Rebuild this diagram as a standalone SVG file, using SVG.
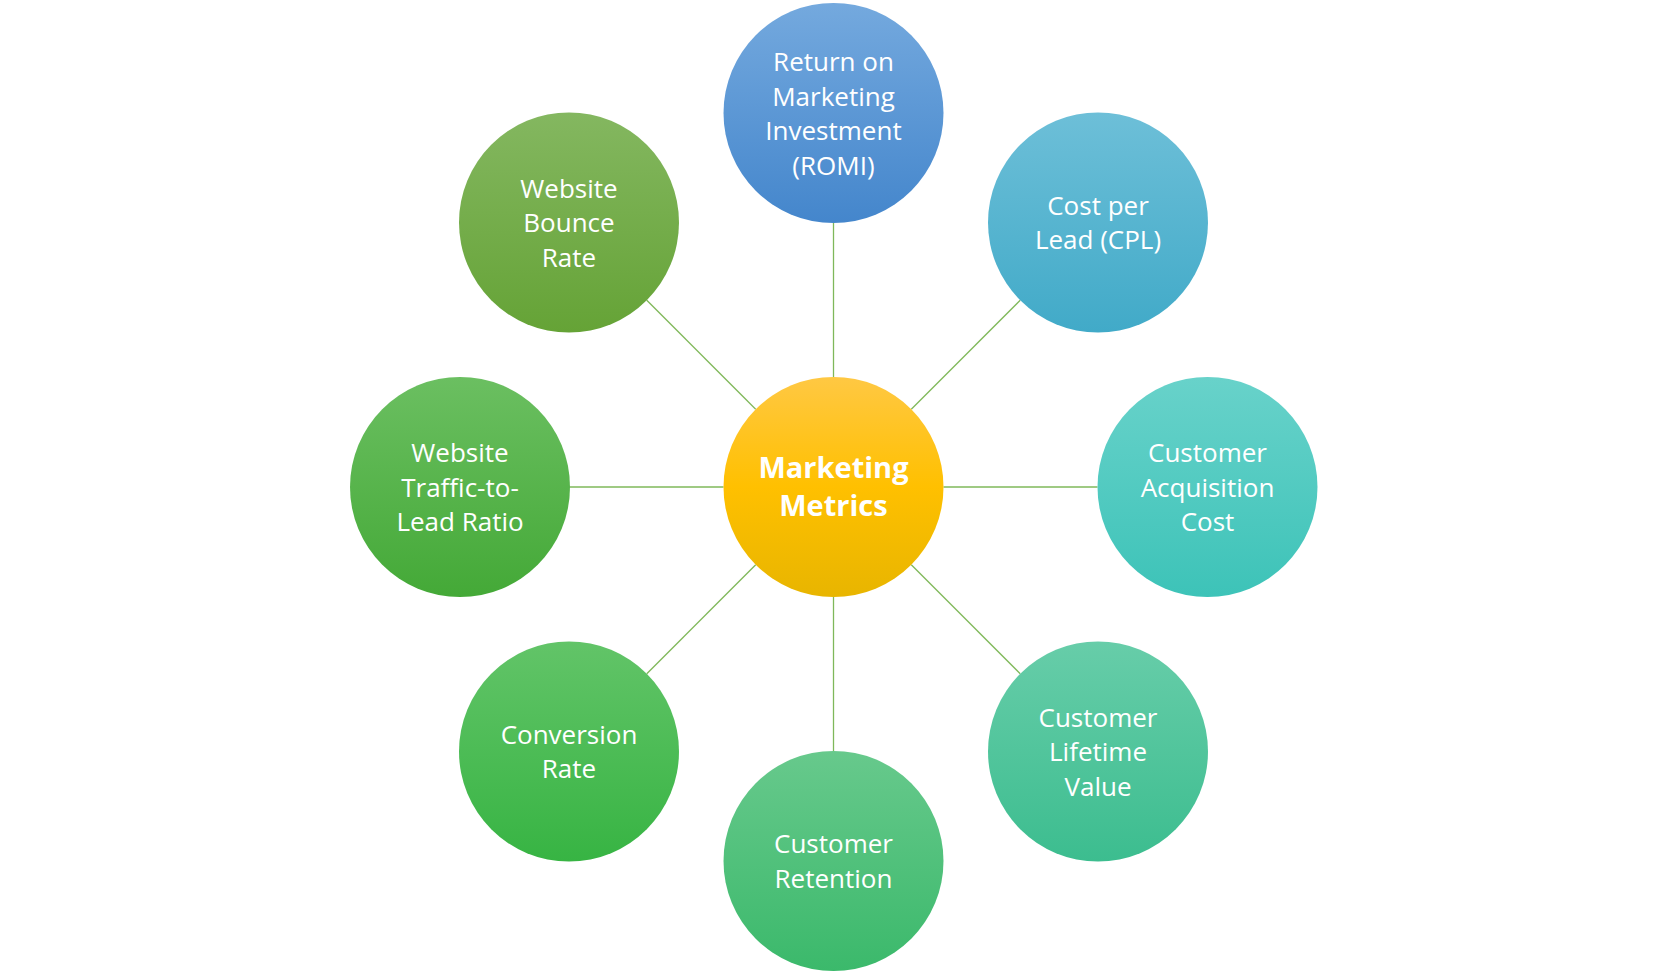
<svg xmlns="http://www.w3.org/2000/svg" width="1667" height="974" viewBox="0 0 1667 974">
<defs>
<style>
.t{font-family:"Open Sans","Noto Sans","Liberation Sans",sans-serif;font-size:26px;fill:#ffffff;text-anchor:middle}
.b{font-family:"Open Sans","Noto Sans","Liberation Sans",sans-serif;font-size:29px;font-weight:bold;fill:#ffffff;text-anchor:middle}
.c line{stroke:#7fb85a;stroke-width:1.3}
</style>
<linearGradient id="g0" x1="0" y1="0" x2="0" y2="1"><stop offset="0" stop-color="#ffc843"/><stop offset="0.5" stop-color="#ffc000"/><stop offset="1" stop-color="#e8b500"/></linearGradient>
<linearGradient id="g1" x1="0" y1="0" x2="0" y2="1"><stop offset="0" stop-color="#74a9de"/><stop offset="1" stop-color="#4486cc"/></linearGradient>
<linearGradient id="g2" x1="0" y1="0" x2="0" y2="1"><stop offset="0" stop-color="#6dbfd8"/><stop offset="1" stop-color="#41aac8"/></linearGradient>
<linearGradient id="g3" x1="0" y1="0" x2="0" y2="1"><stop offset="0" stop-color="#68d2ca"/><stop offset="1" stop-color="#3dc3b8"/></linearGradient>
<linearGradient id="g4" x1="0" y1="0" x2="0" y2="1"><stop offset="0" stop-color="#67cda9"/><stop offset="1" stop-color="#3cbd8f"/></linearGradient>
<linearGradient id="g5" x1="0" y1="0" x2="0" y2="1"><stop offset="0" stop-color="#67c98c"/><stop offset="1" stop-color="#3bb96b"/></linearGradient>
<linearGradient id="g6" x1="0" y1="0" x2="0" y2="1"><stop offset="0" stop-color="#62c468"/><stop offset="1" stop-color="#37b443"/></linearGradient>
<linearGradient id="g7" x1="0" y1="0" x2="0" y2="1"><stop offset="0" stop-color="#6bbf61"/><stop offset="1" stop-color="#44a937"/></linearGradient>
<linearGradient id="g8" x1="0" y1="0" x2="0" y2="1"><stop offset="0" stop-color="#84b760"/><stop offset="1" stop-color="#65a336"/></linearGradient>
</defs>
<rect width="1667" height="974" fill="#ffffff"/>
<g id="connectors" class="c">
<line x1="833.5" y1="377" x2="833.5" y2="223"/>
<line x1="911.3" y1="409.2" x2="1020.2" y2="300.3"/>
<line x1="943.5" y1="487" x2="1097.5" y2="487"/>
<line x1="911.3" y1="564.8" x2="1020.2" y2="673.7"/>
<line x1="833.5" y1="597" x2="833.5" y2="751"/>
<line x1="755.7" y1="564.8" x2="646.8" y2="673.7"/>
<line x1="723.5" y1="487" x2="569.5" y2="487"/>
<line x1="755.7" y1="409.2" x2="646.8" y2="300.3"/>
</g>
<g id="center">
<circle cx="833.5" cy="487" r="110" fill="url(#g0)"/>
<text class="b" x="833.5" y="477.5">Marketing</text>
<text class="b" x="833.5" y="516">Metrics</text>
</g>
<g id="romi">
<circle cx="833.5" cy="113" r="110" fill="url(#g1)"/>
<text class="t" x="833.5" y="71">Return on</text>
<text class="t" x="833.5" y="105.5">Marketing</text>
<text class="t" x="833.5" y="140">Investment</text>
<text class="t" x="833.5" y="174.5">(ROMI)</text>
</g>
<g id="cpl">
<circle cx="1098" cy="222.5" r="110" fill="url(#g2)"/>
<text class="t" x="1098" y="214.5">Cost per</text>
<text class="t" x="1098" y="249">Lead (CPL)</text>
</g>
<g id="cac">
<circle cx="1207.5" cy="487" r="110" fill="url(#g3)"/>
<text class="t" x="1207.5" y="462">Customer</text>
<text class="t" x="1207.5" y="496.5">Acquisition</text>
<text class="t" x="1207.5" y="531">Cost</text>
</g>
<g id="clv">
<circle cx="1098" cy="751.5" r="110" fill="url(#g4)"/>
<text class="t" x="1098" y="726.5">Customer</text>
<text class="t" x="1098" y="761">Lifetime</text>
<text class="t" x="1098" y="795.5">Value</text>
</g>
<g id="retention">
<circle cx="833.5" cy="861" r="110" fill="url(#g5)"/>
<text class="t" x="833.5" y="853">Customer</text>
<text class="t" x="833.5" y="887.5">Retention</text>
</g>
<g id="conversion">
<circle cx="569" cy="751.5" r="110" fill="url(#g6)"/>
<text class="t" x="569" y="743.5">Conversion</text>
<text class="t" x="569" y="778">Rate</text>
</g>
<g id="traffic">
<circle cx="460" cy="487" r="110" fill="url(#g7)"/>
<text class="t" x="460" y="462">Website</text>
<text class="t" x="460" y="496.5">Traffic-to-</text>
<text class="t" x="460" y="531">Lead Ratio</text>
</g>
<g id="bounce">
<circle cx="569" cy="222.5" r="110" fill="url(#g8)"/>
<text class="t" x="569" y="197.5">Website</text>
<text class="t" x="569" y="232">Bounce</text>
<text class="t" x="569" y="266.5">Rate</text>
</g>
</svg>
